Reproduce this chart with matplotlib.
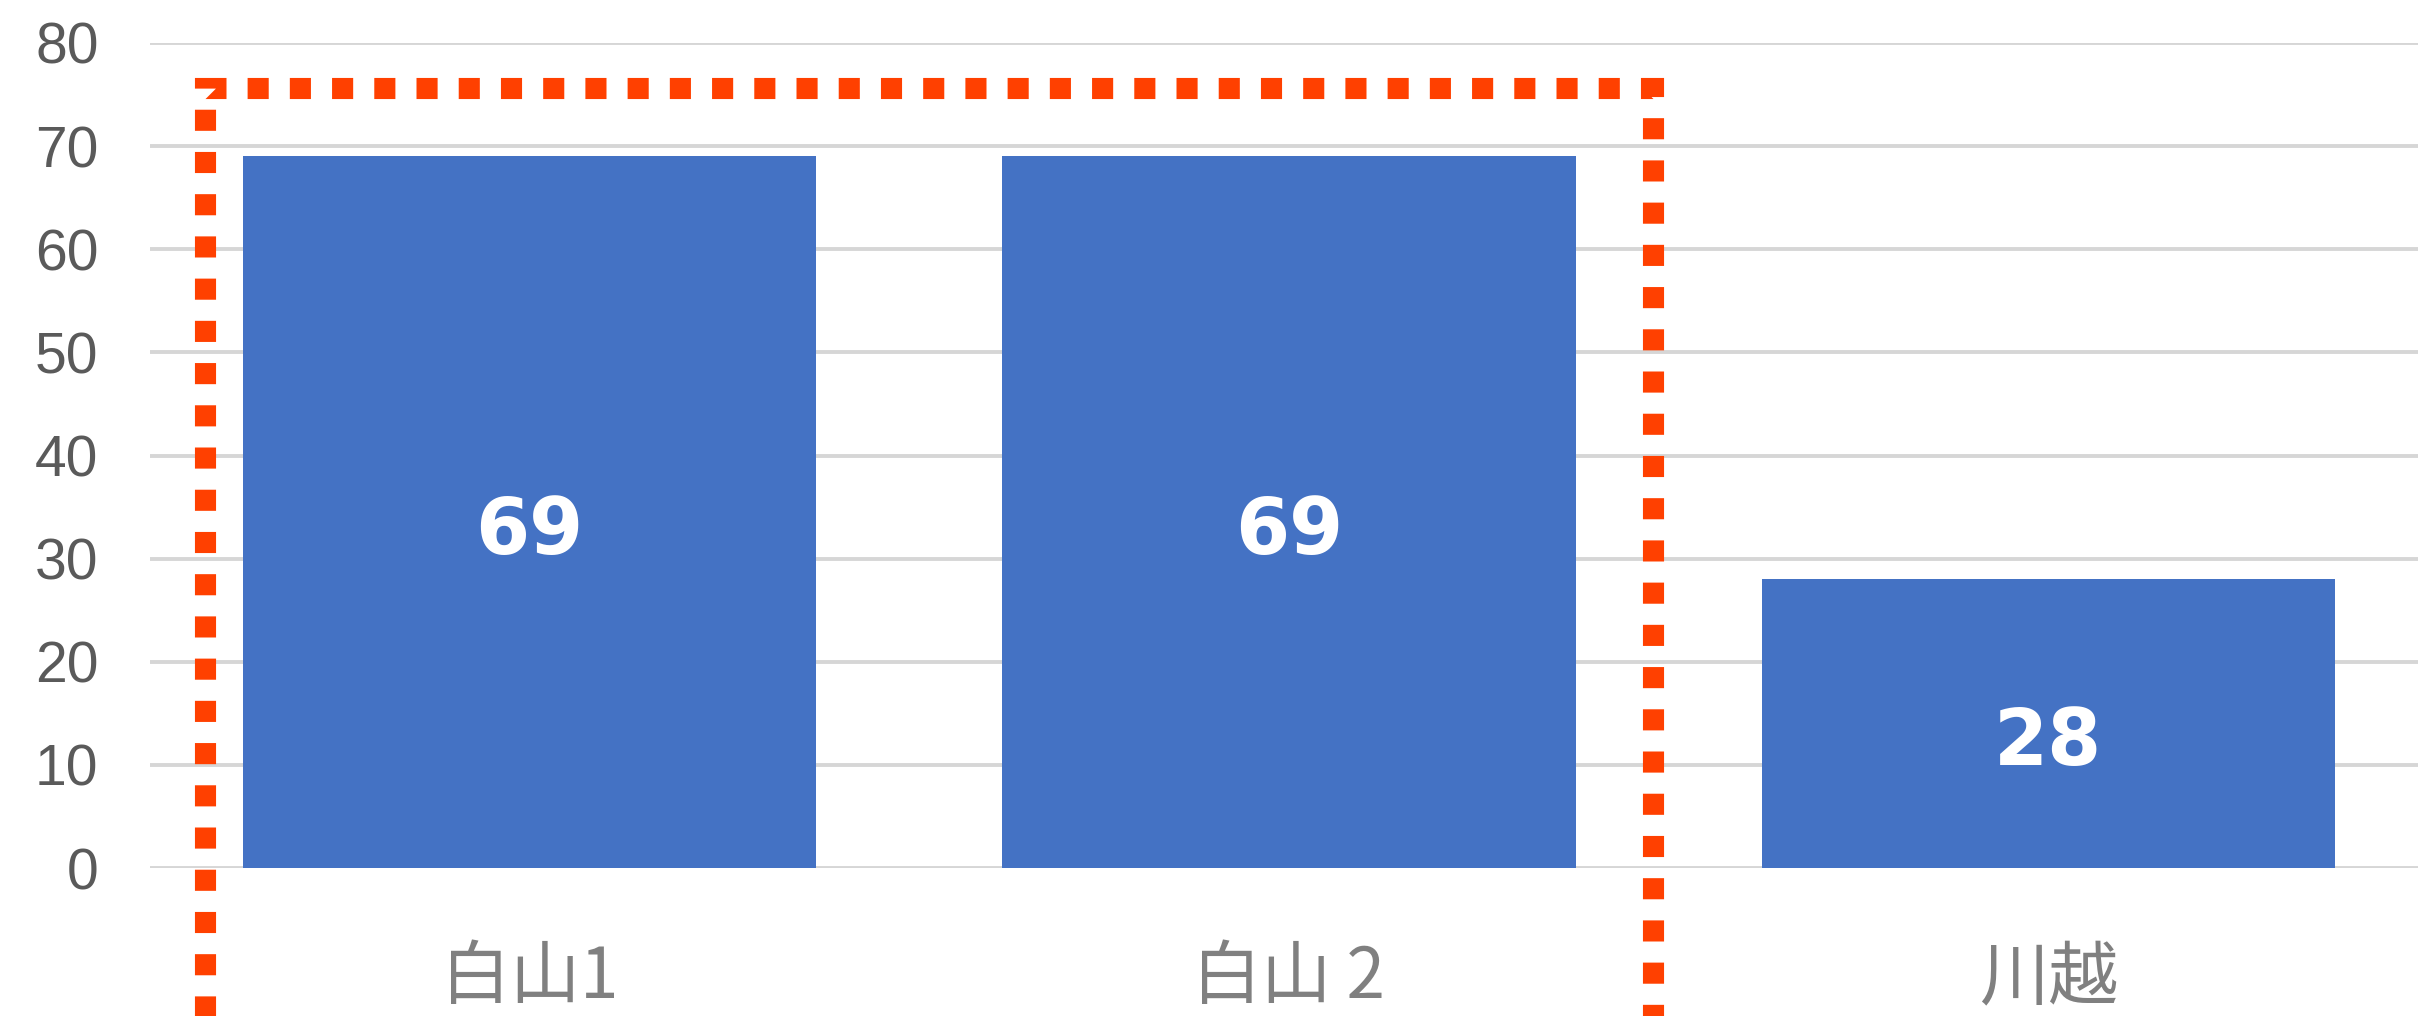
import matplotlib.pyplot as plt
import numpy as np

# data
categories = ['白山1', '白山 2', '川越']
values = [69, 69, 28]
yticks = [0, 10, 20, 30, 40, 50, 60, 70, 80]

bar_color = '#4472C4'
grid_color = '#D6D6D6'
box_color = '#FF4000'

plt.rcParams['font.family'] = ['Noto Sans CJK JP', 'DejaVu Sans']

fig = plt.figure(figsize=(24.18, 10.16), dpi=100)
ax = fig.add_axes([150 / 2418, 1 - 868 / 1016, (2428 - 150) / 2418, (868 - 43) / 1016])

x = np.arange(len(categories))
bars = ax.bar(x, values, width=0.755, color=bar_color, zorder=2)

ax.set_xlim(-0.5, len(categories) - 0.5)
ax.set_ylim(0, 80)
ax.set_yticks(yticks)
ax.set_yticklabels([str(t) for t in yticks], family='Liberation Sans', fontsize=41, color='#5A5A5A')
ax.set_xticks(x)
ax.set_xticklabels(categories, fontsize=50, color='#808080')
ax.tick_params(axis='y', length=0, pad=37)
ax.tick_params(axis='x', length=0, pad=54)

ax.yaxis.grid(True, color=grid_color, linewidth=2.8)
ax.set_axisbelow(True)
for s in ax.spines.values():
    s.set_visible(False)

# value labels inside bars
for xi, v in zip(x, values):
    ax.annotate(str(v), (xi, v / 2), xytext=(0, -14), textcoords='offset points',
                ha='center', va='center', color='white', fontsize=56,
                family='DejaVu Sans', fontweight='bold')

# dotted highlight box round the first two bars
left, right, top, bottom = x[0] - 0.428, x[1] + 0.48, 75.6, -20
ax.plot([left, left, right, right], [bottom, top, top, bottom], color=box_color,
        linewidth=15.2, linestyle=(0, (1, 1)), dash_capstyle='butt',
        dash_joinstyle='miter', clip_on=False, zorder=3)

fig.savefig('out.png', dpi=100)
